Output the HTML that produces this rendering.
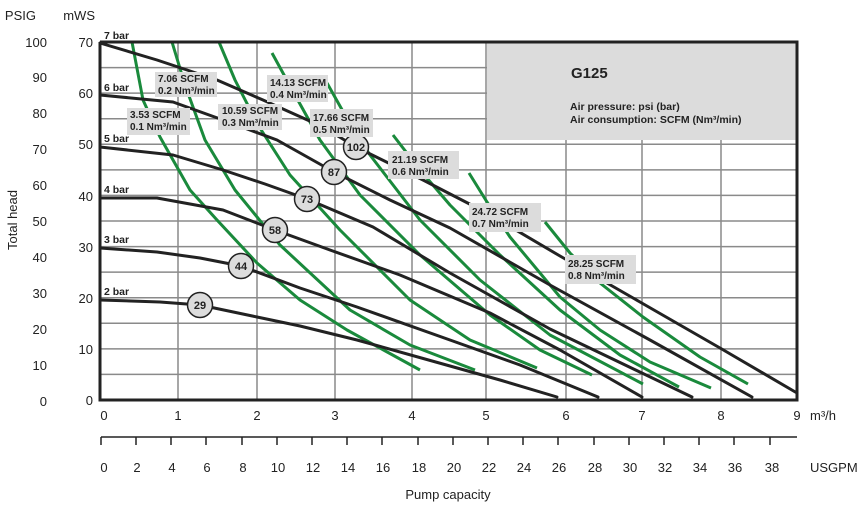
<!DOCTYPE html>
<html><head><meta charset="utf-8"><style>
html,body{margin:0;padding:0;background:#fff;}
svg{display:block;font-family:"Liberation Sans",Arial,sans-serif;}
.ax{font-size:13px;fill:#222;}
.lb{font-size:10px;font-weight:bold;fill:#222;}
.bar{font-size:10.5px;font-weight:bold;fill:#222;}
.blk{fill:none;stroke:#222;stroke-width:3;stroke-linejoin:round;stroke-linecap:round;}
.grn{fill:none;stroke:#1a8a3c;stroke-width:3;stroke-linejoin:round;stroke-linecap:butt;}
.gl{stroke:#8a8a8a;stroke-width:1.5;}
</style></head><body>
<svg width="859" height="513" viewBox="0 0 859 513">
<!-- grid -->
<g class="gl">
<line x1="178" y1="42" x2="178" y2="400"/><line x1="257" y1="42" x2="257" y2="400"/>
<line x1="335" y1="42" x2="335" y2="400"/><line x1="412" y1="42" x2="412" y2="400"/>
<line x1="486" y1="42" x2="486" y2="400"/><line x1="566" y1="42" x2="566" y2="400"/>
<line x1="642" y1="42" x2="642" y2="400"/><line x1="721" y1="42" x2="721" y2="400"/>
<line x1="100" y1="67.6" x2="797" y2="67.6"/><line x1="100" y1="93.1" x2="797" y2="93.1"/>
<line x1="100" y1="118.7" x2="797" y2="118.7"/><line x1="100" y1="144.3" x2="797" y2="144.3"/>
<line x1="100" y1="169.9" x2="797" y2="169.9"/><line x1="100" y1="195.4" x2="797" y2="195.4"/>
<line x1="100" y1="221" x2="797" y2="221"/><line x1="100" y1="246.6" x2="797" y2="246.6"/>
<line x1="100" y1="272.1" x2="797" y2="272.1"/><line x1="100" y1="297.7" x2="797" y2="297.7"/>
<line x1="100" y1="323.3" x2="797" y2="323.3"/><line x1="100" y1="348.9" x2="797" y2="348.9"/>
<line x1="100" y1="374.4" x2="797" y2="374.4"/>
</g>
<rect x="487" y="43" width="309" height="97" fill="#dcdcdc"/>
<text x="571" y="78" style="font-size:15px;font-weight:bold" fill="#222">G125</text>
<text x="570" y="110" class="lb" style="font-size:10.5px">Air pressure: psi (bar)</text>
<text x="570" y="123" class="lb" style="font-size:10.5px">Air consumption: SCFM (Nm³/min)</text>
<!-- green -->
<g class="grn">
<polyline points="132,42 143,100 160,137 190,190 217,220 257,263 300,300 347,330 420,370"/>
<polyline points="172,42 185,85 205,140 235,190 280,245 350,310 410,345 475,370"/>
<polyline points="219,42 235,80 258,125 290,175 340,230 410,300 470,340 537,368"/>
<polyline points="272,53 295,95 320,140 360,195 420,255 490,315 540,350 592,375"/>
<polyline points="327,83 345,115 370,155 420,220 480,280 550,335 643,384"/>
<polyline points="393,135 420,170 450,205 500,255 560,310 620,355 679,387"/>
<polyline points="469,173 487,202 510,237 560,297 600,330 650,362 711,388"/>
<polyline points="545,222 570,253 600,283 643,317 700,357 748,384"/>
</g>
<!-- black -->
<g class="blk">
<polyline points="100,43 157,60 217,80 263,100 323,127 356,147 423,180 487,213 560,256 640,302 720,348 797,393"/>
<polyline points="100,95 173,102 223,120 277,140 334,172 390,200 450,228 550,285 650,340 752,397"/>
<polyline points="100,147 173,155 223,170 265,184 307,199 373,227 450,273 550,329 692,397"/>
<polyline points="100,198 157,198 223,210 275,230 330,250 400,275 490,313 560,350 642,397"/>
<polyline points="100,248 157,252 200,258 241,266 300,288 357,307 450,340 520,365 598,397"/>
<polyline points="100,300 160,302 200,305 257,317 300,326 357,340 450,366 500,380 557,397"/>
</g>
<!-- frame -->
<polyline points="100,42 797,42 797,400 100,400 100,42" fill="none" stroke="#222" stroke-width="3"/>
<!-- circles -->
<g stroke="#222" stroke-width="1.5" fill="#dcdcdc">
<circle cx="356" cy="147" r="12.5"/><circle cx="334" cy="172" r="12.5"/><circle cx="307" cy="199" r="12.5"/>
<circle cx="275" cy="230" r="12.5"/><circle cx="241" cy="266" r="12.5"/><circle cx="200" cy="305" r="12.5"/>
</g>
<g class="lb" text-anchor="middle" style="font-size:11px">
<text x="356" y="151">102</text><text x="334" y="176">87</text><text x="307" y="203">73</text>
<text x="275" y="234">58</text><text x="241" y="270">44</text><text x="200" y="309">29</text>
</g>
<!-- bar labels -->
<g class="bar">
<text x="104" y="39">7 bar</text><text x="104" y="91">6 bar</text><text x="104" y="142">5 bar</text>
<text x="104" y="193">4 bar</text><text x="104" y="243">3 bar</text><text x="104" y="295">2 bar</text>
</g>
<!-- scfm labels -->
<g fill="#dcdcdc">
<rect x="155" y="72" width="62" height="25"/><rect x="127" y="108" width="63" height="27"/>
<rect x="218" y="104" width="64" height="26"/><rect x="267" y="75" width="61" height="27"/>
<rect x="310" y="109" width="63" height="28"/><rect x="388" y="151" width="71" height="28"/>
<rect x="469" y="203" width="72" height="29"/><rect x="565" y="255" width="71" height="29"/>
</g>
<g class="lb">
<text x="158" y="82">7.06 SCFM</text><text x="158" y="94">0.2 Nm³/min</text>
<text x="130" y="118">3.53 SCFM</text><text x="130" y="130">0.1 Nm³/min</text>
<text x="222" y="114">10.59 SCFM</text><text x="222" y="126">0.3 Nm³/min</text>
<text x="270" y="86">14.13 SCFM</text><text x="270" y="98">0.4 Nm³/min</text>
<text x="313" y="121">17.66 SCFM</text><text x="313" y="133">0.5 Nm³/min</text>
<text x="392" y="163">21.19 SCFM</text><text x="392" y="175">0.6 Nm³/min</text>
<text x="472" y="215">24.72 SCFM</text><text x="472" y="227">0.7 Nm³/min</text>
<text x="568" y="267">28.25 SCFM</text><text x="568" y="279">0.8 Nm³/min</text>
</g>
<!-- y axes -->
<g class="ax" text-anchor="end">
<text x="36" y="20">PSIG</text><text x="95" y="20">mWS</text>
<text x="47" y="47">100</text><text x="47" y="82">90</text><text x="47" y="118">80</text>
<text x="47" y="154">70</text><text x="47" y="190">60</text><text x="47" y="226">50</text>
<text x="47" y="262">40</text><text x="47" y="298">30</text><text x="47" y="334">20</text>
<text x="47" y="370">10</text><text x="47" y="406">0</text>
<text x="93" y="47">70</text><text x="93" y="98">60</text><text x="93" y="149">50</text>
<text x="93" y="201">40</text><text x="93" y="252">30</text><text x="93" y="303">20</text>
<text x="93" y="354">10</text><text x="93" y="405">0</text>
</g>
<text class="ax" transform="translate(17,220) rotate(-90)" text-anchor="middle">Total head</text>
<!-- x axis -->
<g class="ax" text-anchor="middle">
<text x="104" y="420">0</text><text x="178" y="420">1</text><text x="257" y="420">2</text>
<text x="335" y="420">3</text><text x="412" y="420">4</text><text x="486" y="420">5</text>
<text x="566" y="420">6</text><text x="642" y="420">7</text><text x="721" y="420">8</text>
<text x="797" y="420">9</text>
</g>
<text class="ax" x="810" y="420">m³/h</text>
<line x1="101" y1="437" x2="797" y2="437" stroke="#222" stroke-width="1.5"/>
<g stroke="#222" stroke-width="1.5">
<line x1="101" y1="437" x2="101" y2="445"/><line x1="136" y1="437" x2="136" y2="445"/>
<line x1="171" y1="437" x2="171" y2="445"/><line x1="206" y1="437" x2="206" y2="445"/>
<line x1="242" y1="437" x2="242" y2="445"/><line x1="277" y1="437" x2="277" y2="445"/>
<line x1="312" y1="437" x2="312" y2="445"/><line x1="347" y1="437" x2="347" y2="445"/>
<line x1="382" y1="437" x2="382" y2="445"/><line x1="418" y1="437" x2="418" y2="445"/>
<line x1="453" y1="437" x2="453" y2="445"/><line x1="488" y1="437" x2="488" y2="445"/>
<line x1="523" y1="437" x2="523" y2="445"/><line x1="558" y1="437" x2="558" y2="445"/>
<line x1="594" y1="437" x2="594" y2="445"/><line x1="629" y1="437" x2="629" y2="445"/>
<line x1="664" y1="437" x2="664" y2="445"/><line x1="699" y1="437" x2="699" y2="445"/>
<line x1="734" y1="437" x2="734" y2="445"/><line x1="770" y1="437" x2="770" y2="445"/>
</g>
<g class="ax" text-anchor="middle">
<text x="104" y="472">0</text><text x="137" y="472">2</text><text x="172" y="472">4</text>
<text x="207" y="472">6</text><text x="243" y="472">8</text><text x="278" y="472">10</text>
<text x="313" y="472">12</text><text x="348" y="472">14</text><text x="383" y="472">16</text>
<text x="419" y="472">18</text><text x="454" y="472">20</text><text x="489" y="472">22</text>
<text x="524" y="472">24</text><text x="559" y="472">26</text><text x="595" y="472">28</text>
<text x="630" y="472">30</text><text x="665" y="472">32</text><text x="700" y="472">34</text>
<text x="735" y="472">36</text><text x="772" y="472">38</text>
</g>
<text class="ax" x="810" y="472">USGPM</text>
<text class="ax" x="448" y="499" text-anchor="middle">Pump capacity</text>
</svg>
</body></html>
